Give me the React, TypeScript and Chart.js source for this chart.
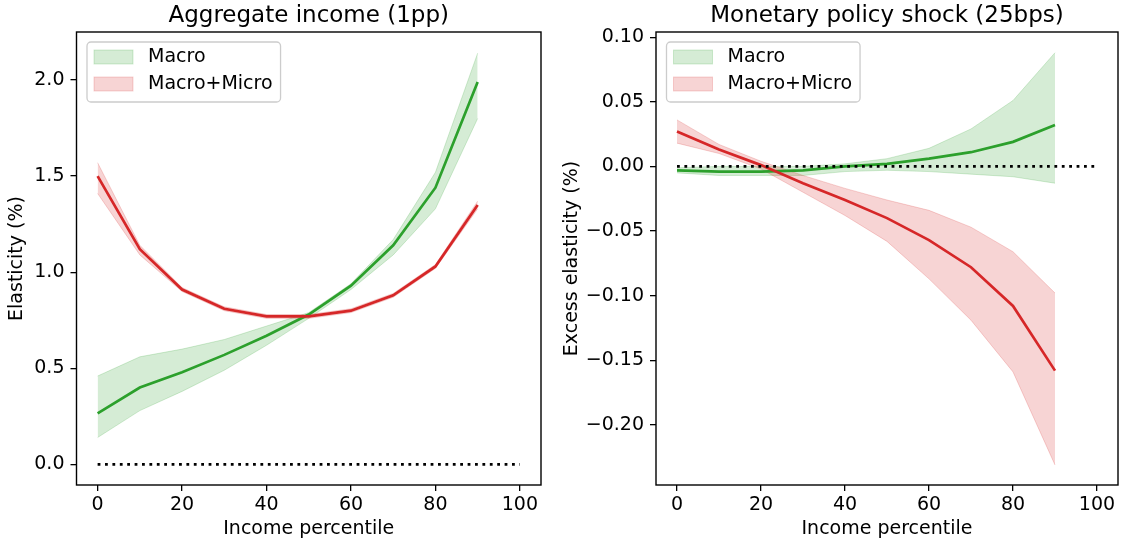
import React, { useEffect, useRef } from 'react';
import { Chart, registerables } from 'chart.js';

Chart.register(...registerables);
Chart.defaults.font.family = '"DejaVu Sans"';
Chart.defaults.color = '#000';

// ---------- shared data ----------
const percentiles = [0, 10, 20, 30, 40, 50, 60, 70, 80, 90];
const zeroLineX = [0, 100];
const zeroLineY = [0, 0];
const seriesLabels = ['Macro', 'Macro+Micro'];
const xTicks = [0, 20, 40, 60, 80, 100];
const xTickLabels = ['0', '20', '40', '60', '80', '100'];
const xAxisTitle = 'Income percentile';

// ---------- left panel: Aggregate income (1pp) ----------
const incomeTitle = 'Aggregate income (1pp)';
const incomeYTitle = 'Elasticity (%)';
const incomeMacro = [0.266, 0.40, 0.48, 0.57, 0.67, 0.78, 0.93, 1.14, 1.44, 1.99];
const incomeMacroUpper = [0.46, 0.56, 0.60, 0.65, 0.72, 0.79, 0.94, 1.17, 1.52, 2.14];
const incomeMacroLower = [0.14, 0.28, 0.38, 0.49, 0.62, 0.76, 0.91, 1.09, 1.33, 1.80];
const incomeMicro = [1.50, 1.12, 0.91, 0.81, 0.77, 0.77, 0.80, 0.88, 1.03, 1.35];
const incomeMicroUpper = [1.57, 1.14, 0.92, 0.82, 0.78, 0.78, 0.81, 0.89, 1.04, 1.37];
const incomeMicroLower = [1.41, 1.09, 0.90, 0.80, 0.76, 0.76, 0.79, 0.87, 1.02, 1.33];
const incomeYTicks = [0, 0.5, 1.0, 1.5, 2.0];
const incomeYTickLabels = ['0.0', '0.5', '1.0', '1.5', '2.0'];

// ---------- right panel: Monetary policy shock (25bps) ----------
const mpTitle = 'Monetary policy shock (25bps)';
const mpYTitle = 'Excess elasticity (%)';
const mpMacro = [-0.003, -0.004, -0.004, -0.003, 0.0, 0.002, 0.006, 0.011, 0.019, 0.032];
const mpMacroUpper = [-0.001, 0.0, 0.0, 0.0, 0.002, 0.006, 0.014, 0.029, 0.051, 0.088];
const mpMacroLower = [-0.005, -0.007, -0.007, -0.007, -0.004, -0.003, -0.004, -0.006, -0.008, -0.013];
const mpMicro = [0.027, 0.013, 0.001, -0.013, -0.026, -0.040, -0.057, -0.078, -0.108, -0.158];
const mpMicroUpper = [0.036, 0.017, 0.004, -0.007, -0.017, -0.026, -0.034, -0.047, -0.066, -0.098];
const mpMicroLower = [0.018, 0.010, -0.002, -0.020, -0.038, -0.058, -0.087, -0.119, -0.159, -0.231];
const mpYTicks = [-0.2, -0.15, -0.1, -0.05, 0, 0.05, 0.1];
const mpYTickLabels = ['\u22120.20', '\u22120.15', '\u22120.10', '\u22120.05', '0.00', '0.05', '0.10'];

// ---------- styles ----------
const GREEN = '#2ca02c';
const RED = '#d62728';
const GREEN_A = 'rgba(44,160,44,0.2)';
const RED_A = 'rgba(214,39,40,0.2)';
const FS = 19;

const pts = (ys: number[]) => percentiles.map((x, i) => ({ x, y: ys[i] }));

const boxPlugin = {
  id: 'mplBox',
  afterDatasetsDraw(chart: any) {
    const { ctx, chartArea: a } = chart;
    ctx.save();
    ctx.strokeStyle = '#000';
    ctx.lineWidth = 1.4;
    ctx.strokeRect(a.left, a.top, a.right - a.left, a.bottom - a.top);
    ctx.restore();
  },
};

const legendPlugin = {
  id: 'mplLegend',
  afterDraw(chart: any) {
    const { ctx, chartArea: a } = chart;
    const fills = [GREEN_A, RED_A];
    ctx.save();
    ctx.font = `${FS}px "DejaVu Sans"`;
    const textW = Math.max(...seriesLabels.map((l) => ctx.measureText(l).width));
    const x0 = a.left + 10.5;
    const y0 = a.top + 10;
    const handleX = x0 + 7;
    const handleW = 39;
    const textX = handleX + handleW + 15;
    const w = textX + textW + 8 - x0;
    const h = 60;
    const r = 4;
    ctx.beginPath();
    ctx.moveTo(x0 + r, y0);
    ctx.lineTo(x0 + w - r, y0);
    ctx.arcTo(x0 + w, y0, x0 + w, y0 + r, r);
    ctx.lineTo(x0 + w, y0 + h - r);
    ctx.arcTo(x0 + w, y0 + h, x0 + w - r, y0 + h, r);
    ctx.lineTo(x0 + r, y0 + h);
    ctx.arcTo(x0, y0 + h, x0, y0 + h - r, r);
    ctx.lineTo(x0, y0 + r);
    ctx.arcTo(x0, y0, x0 + r, y0, r);
    ctx.closePath();
    ctx.fillStyle = 'rgba(255,255,255,0.8)';
    ctx.fill();
    ctx.strokeStyle = '#cccccc';
    ctx.lineWidth = 1.3;
    ctx.stroke();
    seriesLabels.forEach((label, i) => {
      const py = y0 + 8 + i * 27;
      ctx.fillStyle = fills[i];
      ctx.fillRect(handleX, py, handleW, 14);
      ctx.strokeStyle = fills[i];
      ctx.lineWidth = 1;
      ctx.strokeRect(handleX, py, handleW, 14);
      ctx.fillStyle = '#000';
      ctx.textBaseline = 'middle';
      ctx.textAlign = 'left';
      ctx.fillText(label, textX, y0 + 15 + i * 27);
    });
    ctx.restore();
  },
};

type Panel = {
  title: string;
  yTitle: string;
  macro: number[];
  macroUpper: number[];
  macroLower: number[];
  micro: number[];
  microUpper: number[];
  microLower: number[];
  yMin: number;
  yMax: number;
  yTicks: number[];
  yTickLabels: string[];
  yAxisWidth: number;
  yTitlePad: number;
  padRight: number;
};

function buildConfig(p: Panel): any {
  const lineBase = { pointRadius: 0, tension: 0, fill: false };
  return {
    type: 'line',
    data: {
      datasets: [
        {
          ...lineBase,
          label: 'zero',
          data: zeroLineX.map((x, i) => ({ x, y: zeroLineY[i] })),
          borderColor: '#000',
          borderWidth: 2.7,
          borderDash: [2.8, 4.6],
          order: 0,
        },
        { ...lineBase, label: seriesLabels[1], data: pts(p.micro), borderColor: RED, borderWidth: 2.7, order: 1 },
        { ...lineBase, label: seriesLabels[0], data: pts(p.macro), borderColor: GREEN, borderWidth: 2.7, order: 2 },
        { ...lineBase, label: 'micro-upper', data: pts(p.microUpper), borderColor: RED_A, borderWidth: 1, order: 3 },
        {
          ...lineBase,
          label: 'micro-lower',
          data: pts(p.microLower),
          borderColor: RED_A,
          borderWidth: 1,
          backgroundColor: RED_A,
          fill: 3,
          order: 4,
        },
        { ...lineBase, label: 'macro-upper', data: pts(p.macroUpper), borderColor: GREEN_A, borderWidth: 1, order: 5 },
        {
          ...lineBase,
          label: 'macro-lower',
          data: pts(p.macroLower),
          borderColor: GREEN_A,
          borderWidth: 1,
          backgroundColor: GREEN_A,
          fill: 5,
          order: 6,
        },
      ],
    },
    options: {
      animation: false,
      responsive: false,
      events: [],
      layout: { padding: { left: 0, right: p.padRight, top: 0, bottom: 0 } },
      plugins: {
        legend: { display: false },
        tooltip: { enabled: false },
        title: {
          display: true,
          fullSize: false,
          text: p.title,
          color: '#000',
          font: { size: 23, weight: 'normal', family: '"DejaVu Sans"', lineHeight: 1.2 },
          padding: { top: 2, bottom: 2.4 },
        },
      },
      scales: {
        x: {
          type: 'linear',
          min: -5,
          max: 105,
          afterBuildTicks: (s: any) => {
            s.ticks = xTicks.map((v) => ({ value: v }));
          },
          afterFit: (s: any) => {
            s.height = 55;
          },
          ticks: {
            autoSkip: false,
            maxRotation: 0,
            padding: 3,
            color: '#000',
            font: { size: FS },
            callback: (_v: any, i: number) => xTickLabels[i],
          },
          grid: { drawOnChartArea: false, drawTicks: true, tickLength: 6, color: '#000', lineWidth: 1.3 },
          border: { display: false },
          title: {
            display: true,
            text: xAxisTitle,
            color: '#000',
            font: { size: FS, lineHeight: 1.2 },
            padding: { top: 2.6, bottom: 0 },
          },
        },
        y: {
          type: 'linear',
          min: p.yMin,
          max: p.yMax,
          afterBuildTicks: (s: any) => {
            s.ticks = p.yTicks.map((v) => ({ value: v }));
          },
          afterFit: (s: any) => {
            s.width = p.yAxisWidth;
          },
          ticks: {
            autoSkip: false,
            padding: 6,
            color: '#000',
            font: { size: FS },
            callback: (_v: any, i: number) => p.yTickLabels[i],
          },
          grid: { drawOnChartArea: false, drawTicks: true, tickLength: 6, color: '#000', lineWidth: 1.3 },
          border: { display: false },
          title: {
            display: true,
            text: p.yTitle,
            color: '#000',
            font: { size: FS, lineHeight: 1.2 },
            padding: { top: p.yTitlePad, bottom: 0 },
          },
        },
      },
    },
    plugins: [boxPlugin, legendPlugin],
  };
}

const leftPanel: Panel = {
  title: incomeTitle,
  yTitle: incomeYTitle,
  macro: incomeMacro,
  macroUpper: incomeMacroUpper,
  macroLower: incomeMacroLower,
  micro: incomeMicro,
  microUpper: incomeMicroUpper,
  microLower: incomeMicroLower,
  yMin: -0.107,
  yMax: 2.25,
  yTicks: incomeYTicks,
  yTickLabels: incomeYTickLabels,
  yAxisWidth: 76.5,
  yTitlePad: 5.6,
  padRight: 19,
};

const rightPanel: Panel = {
  title: mpTitle,
  yTitle: mpYTitle,
  macro: mpMacro,
  macroUpper: mpMacroUpper,
  macroLower: mpMacroLower,
  micro: mpMicro,
  microUpper: mpMicroUpper,
  microLower: mpMicroLower,
  yMin: -0.2465,
  yMax: 0.104,
  yTicks: mpYTicks,
  yTickLabels: mpYTickLabels,
  yAxisWidth: 106,
  yTitlePad: 10.6,
  padRight: 5,
};

function PanelChart({ panel, left, width }: { panel: Panel; left: number; width: number }) {
  const ref = useRef<HTMLCanvasElement | null>(null);
  useEffect(() => {
    if (!ref.current) return;
    const chart = new Chart(ref.current, buildConfig(panel));
    return () => chart.destroy();
  }, [panel]);
  return (
    <canvas
      ref={ref}
      width={width}
      height={540}
      style={{ position: 'absolute', left, top: 0, width, height: 540 }}
    />
  );
}

export default function App() {
  return (
    <div style={{ position: 'absolute', left: 0, top: 0, width: 1123, height: 540, background: '#fff' }}>
      <PanelChart panel={leftPanel} left={0} width={560} />
      <PanelChart panel={rightPanel} left={550} width={573} />
    </div>
  );
}
